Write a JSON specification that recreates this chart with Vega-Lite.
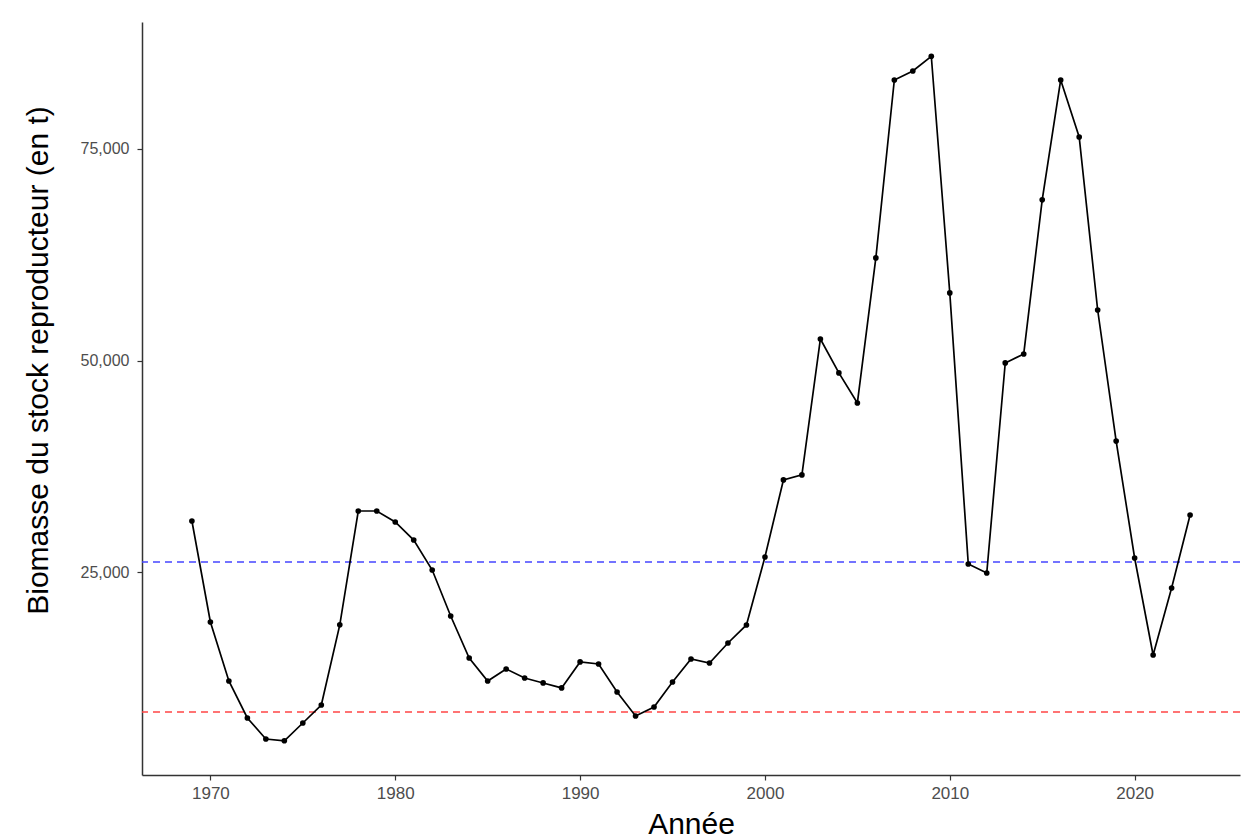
{
  "$schema": "https://vega.github.io/schema/vega-lite/v6.json",
  "width": 1098,
  "height": 753,
  "padding": {"left": 142, "top": 22, "right": 4, "bottom": 63},
  "autosize": {"type": "none"},
  "background": "white",
  "config": {
    "view": {"stroke": null},
    "font": "Liberation Sans"
  },
  "datasets": {
    "ssb": [
      {"annee": 1969, "biomasse": 31060},
      {"annee": 1970, "biomasse": 19130},
      {"annee": 1971, "biomasse": 12160},
      {"annee": 1972, "biomasse": 7790},
      {"annee": 1973, "biomasse": 5310},
      {"annee": 1974, "biomasse": 5100},
      {"annee": 1975, "biomasse": 7200},
      {"annee": 1976, "biomasse": 9325},
      {"annee": 1977, "biomasse": 18790},
      {"annee": 1978, "biomasse": 32240},
      {"annee": 1979, "biomasse": 32240},
      {"annee": 1980, "biomasse": 30940},
      {"annee": 1981, "biomasse": 28810},
      {"annee": 1982, "biomasse": 25270},
      {"annee": 1983, "biomasse": 19840},
      {"annee": 1984, "biomasse": 14880},
      {"annee": 1985, "biomasse": 12160},
      {"annee": 1986, "biomasse": 13580},
      {"annee": 1987, "biomasse": 12520},
      {"annee": 1988, "biomasse": 11930},
      {"annee": 1989, "biomasse": 11340},
      {"annee": 1990, "biomasse": 14410},
      {"annee": 1991, "biomasse": 14170},
      {"annee": 1992, "biomasse": 10860},
      {"annee": 1993, "biomasse": 8030},
      {"annee": 1994, "biomasse": 9090},
      {"annee": 1995, "biomasse": 12040},
      {"annee": 1996, "biomasse": 14760},
      {"annee": 1997, "biomasse": 14290},
      {"annee": 1998, "biomasse": 16650},
      {"annee": 1999, "biomasse": 18780},
      {"annee": 2000, "biomasse": 26810},
      {"annee": 2001, "biomasse": 35910},
      {"annee": 2002, "biomasse": 36500},
      {"annee": 2003, "biomasse": 52560},
      {"annee": 2004, "biomasse": 48550},
      {"annee": 2005, "biomasse": 45000},
      {"annee": 2006, "biomasse": 62130},
      {"annee": 2007, "biomasse": 83150},
      {"annee": 2008, "biomasse": 84210},
      {"annee": 2009, "biomasse": 85950},
      {"annee": 2010, "biomasse": 58000},
      {"annee": 2011, "biomasse": 25980},
      {"annee": 2012, "biomasse": 24920},
      {"annee": 2013, "biomasse": 49730},
      {"annee": 2014, "biomasse": 50790},
      {"annee": 2015, "biomasse": 68990},
      {"annee": 2016, "biomasse": 83150},
      {"annee": 2017, "biomasse": 76420},
      {"annee": 2018, "biomasse": 55980},
      {"annee": 2019, "biomasse": 40500},
      {"annee": 2020, "biomasse": 26690},
      {"annee": 2021, "biomasse": 15230},
      {"annee": 2022, "biomasse": 23150},
      {"annee": 2023, "biomasse": 31770}
    ],
    "refs": [
      {"ref": "Bpa", "valeur": 26220, "couleur": "#4646FF"},
      {"ref": "Blim", "valeur": 8500, "couleur": "#FF4646"}
    ]
  },
  "layer": [
    {
      "data": {"name": "refs"},
      "mark": {"type": "rule", "strokeDash": [7, 5], "strokeWidth": 1.6},
      "encoding": {
        "y": {"field": "valeur", "type": "quantitative", "scale": {"domain": [1057, 90000], "nice": false, "zero": false}},
        "color": {"field": "couleur", "type": "nominal", "scale": null, "legend": null}
      }
    },
    {
      "data": {"name": "ssb"},
      "mark": {"type": "line", "color": "black", "strokeWidth": 1.7},
      "encoding": {
        "x": {
          "field": "annee", "type": "quantitative",
          "scale": {"domain": [1966.3, 2025.7], "nice": false, "zero": false},
          "axis": {
            "title": "Année",
            "values": [1970, 1980, 1990, 2000, 2010, 2020],
            "format": "d",
            "grid": false,
            "domainColor": "#333333",
            "domainWidth": 1.5,
            "tickColor": "#333333",
            "tickSize": 5,
            "tickWidth": 1.2,
            "labelColor": "#4D4D4D",
            "labelFontSize": 17,
            "labelPadding": 5,
            "titleFontSize": 30,
            "titleFontWeight": "normal",
            "titleColor": "black",
            "titleBaseline": "alphabetic",
            "titleY": 58
          }
        },
        "y": {
          "field": "biomasse", "type": "quantitative",
          "scale": {"domain": [1057, 90000], "nice": false, "zero": false},
          "axis": {
            "title": "Biomasse du stock reproducteur (en t)",
            "values": [25000, 50000, 75000],
            "format": ",d",
            "grid": false,
            "domainColor": "#333333",
            "domainWidth": 1.5,
            "tickColor": "#333333",
            "tickSize": 5,
            "tickWidth": 1.2,
            "labelColor": "#4D4D4D",
            "labelFontSize": 16,
            "labelPadding": 8,
            "titleFontSize": 30,
            "titleFontWeight": "normal",
            "titleColor": "black",
            "titleBaseline": "middle",
            "titleAlign": "center",
            "titleAngle": -90,
            "titleX": -104,
            "titleY": 338
          }
        }
      }
    },
    {
      "data": {"name": "ssb"},
      "mark": {"type": "point", "filled": true, "color": "black", "size": 32, "opacity": 1},
      "encoding": {
        "x": {"field": "annee", "type": "quantitative"},
        "y": {"field": "biomasse", "type": "quantitative"}
      }
    }
  ]
}
